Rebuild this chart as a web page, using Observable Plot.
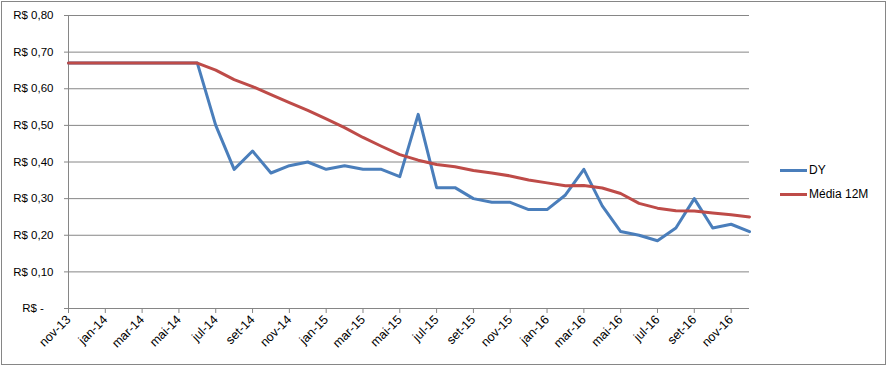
<!DOCTYPE html>
<html>
<head>
<meta charset="utf-8">
<script src="https://cdn.jsdelivr.net/npm/d3@7"></script>
<script src="https://cdn.jsdelivr.net/npm/@observablehq/plot@0.6"></script>
<style>
  html, body { margin: 0; padding: 0; background: #fff; }
  #wrap { position: relative; width: 887px; height: 367px; overflow: hidden; font-family: "Liberation Sans", Arial, sans-serif; }
  #border { position: absolute; left: 1px; top: 1px; width: 883px; height: 362px; border: 1px solid #868686; pointer-events: none; }
  .leg { position: absolute; font-size: 12px; color: #000; display: flex; align-items: center; white-space: nowrap; }
  .leg .sw { width: 27px; height: 3px; margin-right: 2px; }
</style>
</head>
<body>
<div id="wrap">
  <div id="chart"></div>
  <div id="border"></div>
  <div class="leg" style="left:780px; top:163px;"><span class="sw" style="background:#4A7EBB"></span>DY</div>
  <div class="leg" style="left:780px; top:187px;"><span class="sw" style="background:#BE4B48"></span>Média 12M</div>
</div>
<script>
const months = ["nov-13","dez-13","jan-14","fev-14","mar-14","abr-14","mai-14","jun-14","jul-14","ago-14","set-14","out-14","nov-14","dez-14","jan-15","fev-15","mar-15","abr-15","mai-15","jun-15","jul-15","ago-15","set-15","out-15","nov-15","dez-15","jan-16","fev-16","mar-16","abr-16","mai-16","jun-16","jul-16","ago-16","set-16","out-16","nov-16","dez-16"];
const dy = [0.67,0.67,0.67,0.67,0.67,0.67,0.67,0.67,
  0.50,0.38,0.43,0.37,0.39,0.40,0.38,0.39,0.38,0.38,0.36,0.53,0.33,0.33,0.30,0.29,0.29,0.27,0.27,0.31,0.38,0.28,0.21,0.20,0.185,0.22,0.30,0.22,0.23,0.21];
const media = [0.67,0.67,0.67,0.67,0.67,0.67,0.67,0.67,
  0.651,0.625,0.606,0.584,0.562,0.541,0.518,0.494,0.467,0.443,0.42,0.405,0.393,0.387,0.377,0.37,0.362,0.351,0.343,0.335,0.336,0.329,0.314,0.287,0.274,0.267,0.266,0.261,0.256,0.25];
const xTickLabels = ["nov-13","jan-14","mar-14","mai-14","jul-14","set-14","nov-14","jan-15","mar-15","mai-15","jul-15","set-15","nov-15","jan-16","mar-16","mai-16","jul-16","set-16","nov-16"];
const yTicks = [0,0.1,0.2,0.3,0.4,0.5,0.6,0.7,0.8];

const dyData = months.map((m, i) => ({i, m, v: dy[i]}));
const mediaData = months.map((m, i) => ({i, m, v: media[i]}));
const xTickIdx = xTickLabels.map(l => months.indexOf(l));

const fmtY = v => v === 0 ? "R$ -\u00a0\u00a0\u00a0" : "R$ " + v.toFixed(2).replace(".", ",");

const chart = Plot.plot({
  width: 887,
  height: 367,
  marginLeft: 68,
  marginRight: 138,
  marginTop: 15,
  marginBottom: 59,
  x: {type: "linear", domain: [0, months.length - 1]},
  y: {domain: [0, 0.8]},
  style: {fontFamily: "Liberation Sans, Arial, sans-serif", fontSize: "11.5px", color: "#000", background: "transparent", overflow: "visible"},
  marks: [
    Plot.ruleY(yTicks, {stroke: "#868686", strokeWidth: 1, strokeOpacity: 1}),
    Plot.ruleX([0], {stroke: "#868686", strokeWidth: 1}),
    Plot.axisY({ticks: yTicks, tickFormat: fmtY, tickSize: 4, tickPadding: 11, stroke: "#868686", label: null}),
    Plot.axisX({ticks: xTickIdx, tickFormat: i => months[i], tickRotate: -45, tickSize: 5, tickPadding: 4, fontSize: 12.5, stroke: "#868686", label: null}),
    Plot.line(dyData, {x: "i", y: "v", stroke: "#4A7EBB", strokeWidth: 3, strokeLinejoin: "round"}),
    Plot.line(mediaData, {x: "i", y: "v", stroke: "#BE4B48", strokeWidth: 3, strokeLinejoin: "round"})
  ]
});
document.getElementById("chart").appendChild(chart);
</script>
</body>
</html>
